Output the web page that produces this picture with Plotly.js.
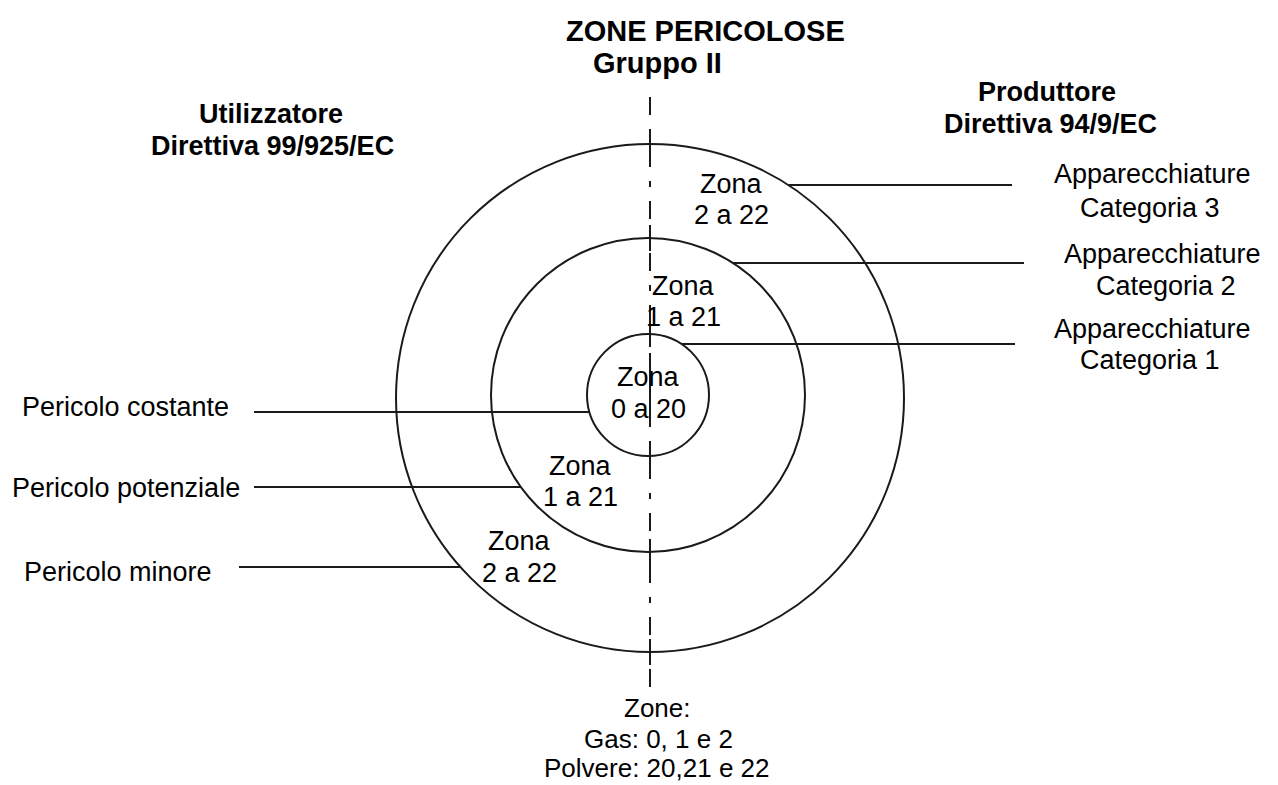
<!DOCTYPE html>
<html>
<head>
<meta charset="utf-8">
<script src="https://cdn.plot.ly/plotly-3.0.1.min.js"></script>
<style>html,body{margin:0;padding:0;background:#fff;}#chart{width:1278px;height:785px;}</style>
</head>
<body>
<div id="chart"></div>
<script>
// ---- Data (texts of the diagram) ----
const titleLines = ["ZONE PERICOLOSE", "Gruppo II"];
const userHeader = ["Utilizzatore", "Direttiva 99/925/EC"];
const makerHeader = ["Produttore", "Direttiva 94/9/EC"];
const zoneNames = ["Zona", "Zona", "Zona", "Zona", "Zona"];
const zoneCodes = ["2 a 22", "1 a 21", "0 a 20", "1 a 21", "2 a 22"];
const categoryTop = ["Apparecchiature", "Apparecchiature", "Apparecchiature"];
const categoryBottom = ["Categoria 3", "Categoria 2", "Categoria 1"];
const hazards = ["Pericolo costante", "Pericolo potenziale", "Pericolo minore"];
const zoneLegend = ["Zone:", "Gas: 0, 1 e 2", "Polvere: 20,21 e 22"];

// ---- Geometry / layout (positions and styles) ----
const FONT = "Liberation Sans, Arial, sans-serif";
const INK = "#1a1a1a";
const circles = [ // outer, middle, inner
  {cx: 650, cy: 398, r: 254},
  {cx: 648, cy: 395, r: 157},
  {cx: 648, cy: 395, r: 61}
];
const axisX = 650, axisTop = 97, axisBottom = 700;

function edgeX(c, y, side) {
  const dy = y - c.cy;
  const dx = Math.sqrt(Math.max(0, c.r * c.r - dy * dy));
  return side < 0 ? c.cx - dx : c.cx + dx;
}

const shapes = [];
circles.forEach(c => shapes.push({
  type: "circle", xref: "x", yref: "y",
  x0: c.cx - c.r, x1: c.cx + c.r, y0: c.cy - c.r, y1: c.cy + c.r,
  line: {color: INK, width: 2}
}));
// dash-dot axis
shapes.push({type: "line", xref: "x", yref: "y", x0: axisX, x1: axisX, y0: axisTop, y1: axisBottom,
  line: {color: INK, width: 2, dash: "18px,14px,6px,14px"}});
// ticks at crossings
circles.forEach(c => {
  [c.cy - c.r, c.cy + c.r].forEach(y => shapes.push({
    type: "line", xref: "x", yref: "y", x0: axisX, x1: axisX, y0: y - 13, y1: y + 13,
    line: {color: INK, width: 2}}));
});
shapes.push({type: "line", xref: "x", yref: "y", x0: axisX, x1: axisX, y0: 353, y1: 420, line: {color: INK, width: 2}});

// right leader lines (category -> circle index)
const rightLeaders = [
  {ci: 0, y: 185, xEnd: 1012},
  {ci: 1, y: 263, xEnd: 1024},
  {ci: 2, y: 344, xEnd: 1015}
];
rightLeaders.forEach(l => shapes.push({type: "line", xref: "x", yref: "y",
  x0: edgeX(circles[l.ci], l.y, 1), x1: l.xEnd, y0: l.y, y1: l.y, line: {color: INK, width: 2}}));
// left leader lines (hazard -> circle index)
const leftLeaders = [
  {ci: 2, y: 412, xStart: 254},
  {ci: 1, y: 487, xStart: 254},
  {ci: 0, y: 567, xStart: 239}
];
leftLeaders.forEach(l => shapes.push({type: "line", xref: "x", yref: "y",
  x0: l.xStart, x1: edgeX(circles[l.ci], l.y, -1), y0: l.y, y1: l.y, line: {color: INK, width: 2}}));

const ann = [];
function txt(text, x, y, size, bold, xanchor) {
  ann.push({text: bold ? "<b>" + text + "</b>" : text, x: x, y: y, xref: "x", yref: "y",
    showarrow: false, xanchor: xanchor || "center", yanchor: "middle",
    font: {family: FONT, size: size, color: "#000"}});
}
// titles
const titlePos = [{x: 705, y: 31}, {x: 657, y: 63}];
titleLines.forEach((t, i) => txt(t, titlePos[i].x, titlePos[i].y, 29, true));
const userPos = [{x: 271, y: 114}, {x: 272, y: 146}];
userHeader.forEach((t, i) => txt(t, userPos[i].x, userPos[i].y, 27, true));
const makerPos = [{x: 1047, y: 92}, {x: 1050, y: 124}];
makerHeader.forEach((t, i) => txt(t, makerPos[i].x, makerPos[i].y, 27, true));
// categories
const catPos = [
  {x1: 1152, y1: 174, x2: 1150, y2: 208},
  {x1: 1162, y1: 254, x2: 1166, y2: 286},
  {x1: 1152, y1: 329, x2: 1150, y2: 360}
];
categoryTop.forEach((t, i) => {
  txt(t, catPos[i].x1, catPos[i].y1, 27, false);
  txt(categoryBottom[i], catPos[i].x2, catPos[i].y2, 27, false);
});
// zones
const zonePos = [
  {x: 731, y1: 184, y2: 215},
  {x: 683, y1: 286, y2: 317},
  {x: 648, y1: 377, y2: 409},
  {x: 580, y1: 466, y2: 497},
  {x: 519, y1: 541, y2: 573}
];
zoneNames.forEach((t, i) => {
  txt(t, zonePos[i].x, zonePos[i].y1, 27, false);
  txt(zoneCodes[i], zonePos[i].x, zonePos[i].y2, 27, false);
});
// hazards
const hazPos = [{x: 20, y: 407}, {x: 10, y: 488}, {x: 22, y: 572}];
hazards.forEach((t, i) => txt(t, hazPos[i].x, hazPos[i].y, 27, false, "left"));
// zone legend
const legPos = [{x: 657, y: 708}, {x: 658, y: 739}, {x: 657, y: 768}];
zoneLegend.forEach((t, i) => txt(t, legPos[i].x, legPos[i].y, 26, false));

const layout = {
  width: 1278, height: 785,
  margin: {l: 0, r: 0, t: 0, b: 0, pad: 0},
  paper_bgcolor: "#fff", plot_bgcolor: "#fff",
  showlegend: false,
  xaxis: {range: [0, 1278], visible: false, fixedrange: true},
  yaxis: {range: [785, 0], visible: false, fixedrange: true},
  shapes: shapes,
  annotations: ann
};
Plotly.newPlot("chart", [{x: [], y: [], type: "scatter", mode: "markers", hoverinfo: "skip"}], layout, {staticPlot: true, displayModeBar: false});
</script>
</body>
</html>
